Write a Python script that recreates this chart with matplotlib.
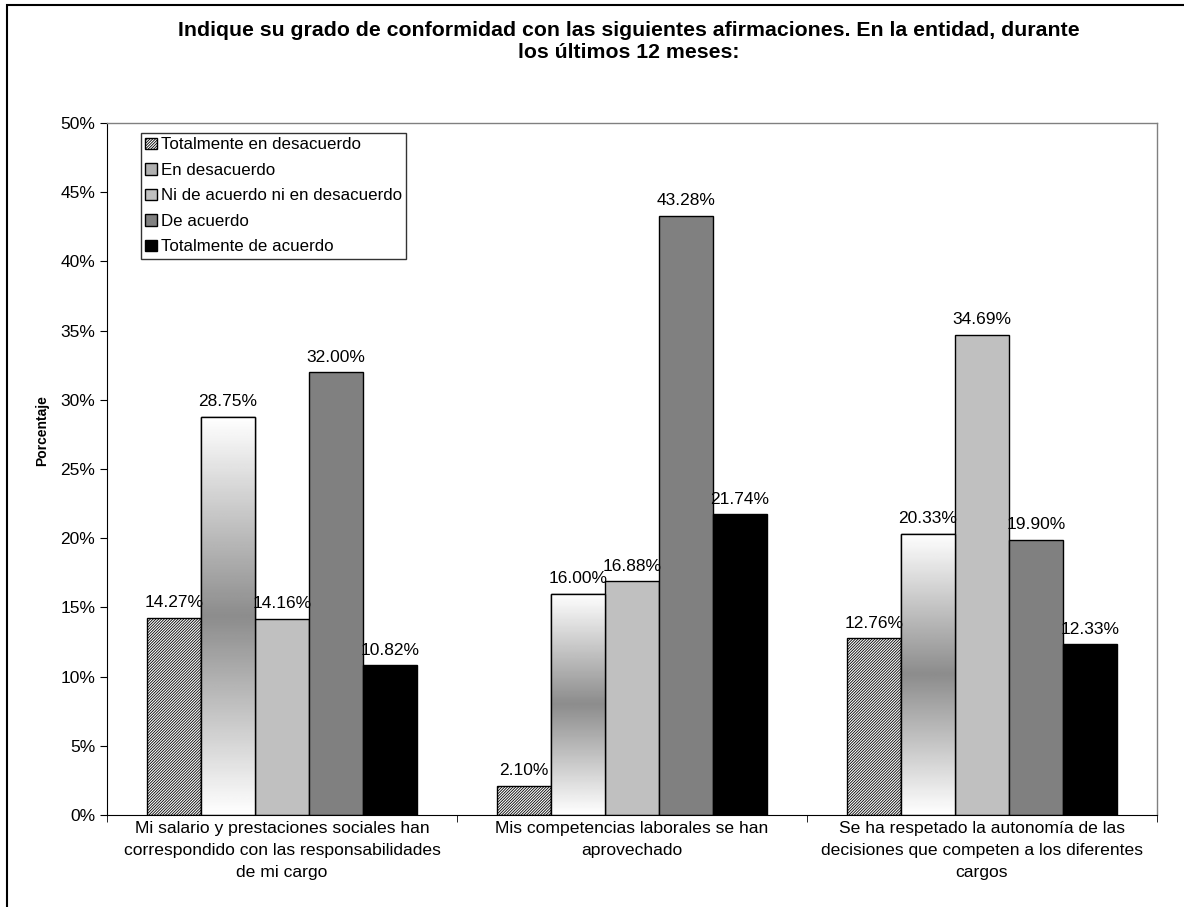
import numpy as np
import matplotlib.pyplot as plt
from matplotlib.patches import Rectangle, Patch

plt.rcParams["font.family"] = ["Liberation Sans", "DejaVu Sans"]
plt.rcParams["hatch.linewidth"] = 0.6

categories = [
    "Mi salario y prestaciones sociales han\ncorrespondido con las responsabilidades\nde mi cargo",
    "Mis competencias laborales se han\naprovechado",
    "Se ha respetado la autonomía de las\ndecisiones que competen a los diferentes\ncargos",
]
series = [
    "Totalmente en desacuerdo",
    "En desacuerdo",
    "Ni de acuerdo ni en desacuerdo",
    "De acuerdo",
    "Totalmente de acuerdo",
]
values = [
    [14.27, 2.10, 12.76],
    [28.75, 16.00, 20.33],
    [14.16, 16.88, 34.69],
    [32.00, 43.28, 19.90],
    [10.82, 21.74, 12.33],
]
colors = ["white", "white", "#c0c0c0", "#808080", "black"]
dense = "/" * 12
hatches = [dense, None, None, None, None]

fig = plt.figure(figsize=(11.84, 9.07), dpi=100)
ax = fig.add_axes([107 / 1184, (907 - 815) / 907, 1050 / 1184, (815 - 123) / 907])

# outer frame of the chart area
fig.patches.append(Rectangle((7 / 1184, -0.1), 1.2, (907 - 5) / 907 + 0.1,
                             transform=fig.transFigure, fill=False,
                             edgecolor="black", linewidth=1.5))

x = np.arange(len(categories))
width = 0.1543
grad = 1 - 0.45 * (1 - np.abs(2 * np.linspace(0, 1, 256) - 1))
grad = grad[:, None]

for i, (name, vals) in enumerate(zip(series, values)):
    pos = x + (i - 2) * width
    bars = ax.bar(pos, vals, width, color=colors[i], edgecolor="black",
                  linewidth=1, hatch=hatches[i], label=name, zorder=2)
    if i == 1:
        for b in bars:
            im = ax.imshow(grad, cmap="gray", vmin=0, vmax=1, aspect="auto",
                           extent=[b.get_x(), b.get_x() + b.get_width(), 0, b.get_height()],
                           zorder=2.5)
            im.set_clip_path(b)
            ax.add_patch(Rectangle((b.get_x(), 0), b.get_width(), b.get_height(),
                                   fill=False, edgecolor="black", linewidth=1, zorder=3))
    for p, v in zip(pos, vals):
        ax.text(p, v + 0.55, f"{v:.2f}%", ha="center", va="bottom", fontsize=12.5)

ax.set_xlim(-0.5, 2.5)
ax.set_ylim(0, 50)
ax.set_yticks(np.arange(0, 51, 5))
ax.set_yticklabels([f"{t}%" for t in range(0, 51, 5)], fontsize=12.5)
ax.set_xticks(x)
ax.set_xticklabels(categories, fontsize=12.6, linespacing=1.6)
ax.tick_params(axis="x", length=0, pad=4)
ax.set_xticks([-0.5, 0.5, 1.5, 2.5], minor=True)
ax.tick_params(axis="x", which="minor", length=5, direction="out")
ax.tick_params(axis="y", length=5, direction="out")
ax.set_ylabel("Porcentaje", fontsize=10, fontweight="bold")
ax.yaxis.set_label_coords(-0.055, 0.555)
for s in ["top", "right"]:
    ax.spines[s].set_color("#808080")
    ax.spines[s].set_linewidth(1)

handles = [
    Patch(facecolor="white", edgecolor="black", hatch=dense),
    Patch(facecolor="#b0b0b0", edgecolor="black"),
    Patch(facecolor="#c0c0c0", edgecolor="black"),
    Patch(facecolor="#808080", edgecolor="black"),
    Patch(facecolor="black", edgecolor="black"),
]
leg = ax.legend(handles, series, loc="upper left", bbox_to_anchor=(0.032, 0.986),
                fontsize=12.2, frameon=True, fancybox=False, handlelength=0.7,
                handleheight=0.7, handletextpad=0.2, labelspacing=0.62,
                borderpad=0.28, borderaxespad=0)
leg.get_frame().set_edgecolor("black")
leg.get_frame().set_linewidth(1)

fig.text(0.531, 1 - 41 / 907, "Indique su grado de conformidad con las siguientes afirmaciones. En la entidad, durante\nlos últimos 12 meses:",
         ha="center", va="center", fontsize=15.3, fontweight="bold", linespacing=1.2)

fig.savefig("out.png", dpi=100)
